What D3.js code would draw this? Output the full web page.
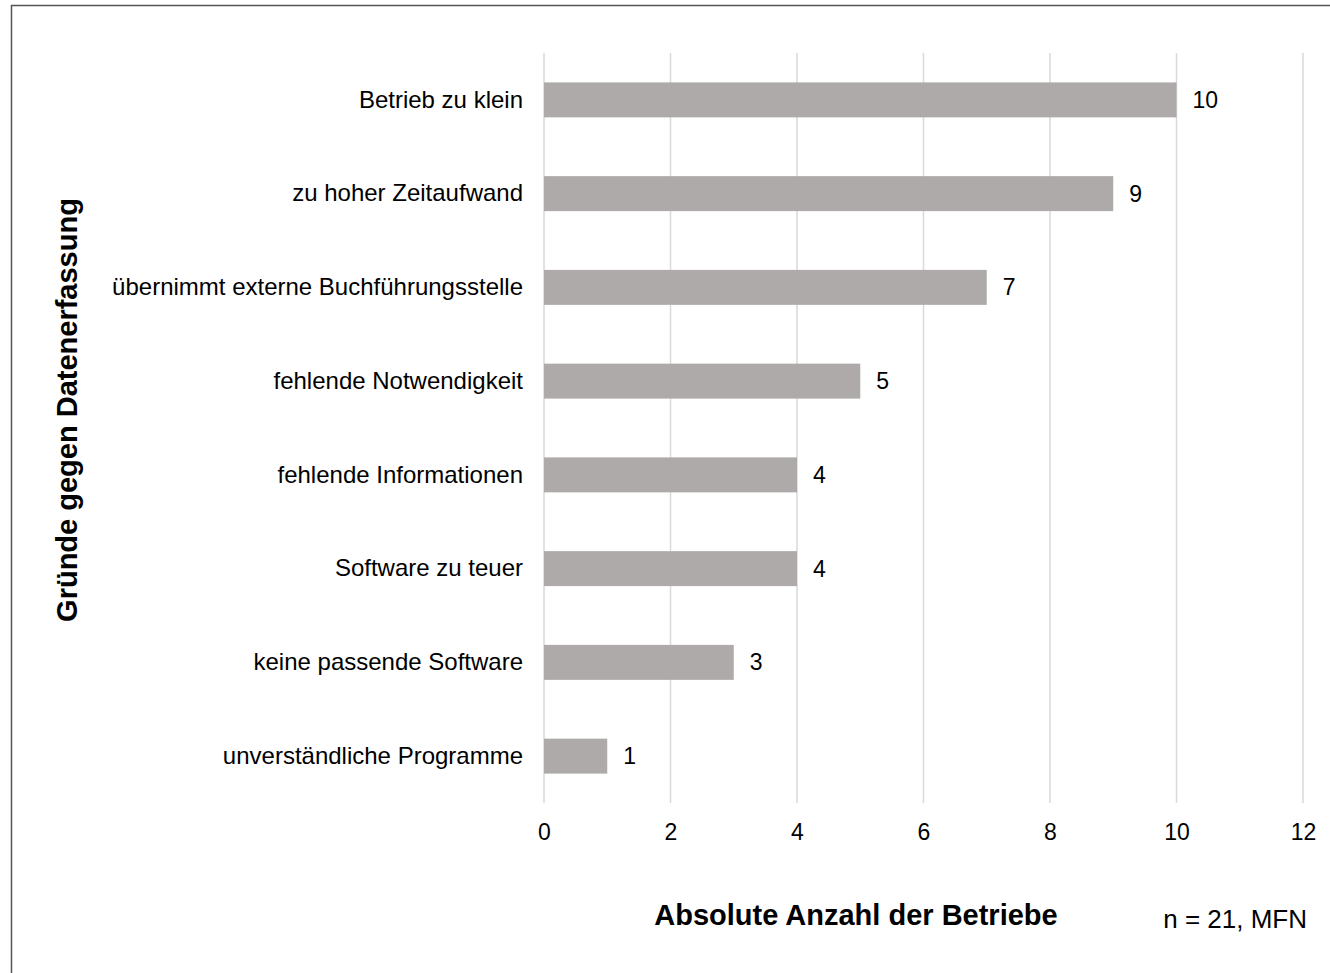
<!DOCTYPE html>
<html><head><meta charset="utf-8">
<script src="https://cdn.jsdelivr.net/npm/d3@7"></script>
<style>body{margin:0;background:#fff}svg{display:block}text{font-family:"Liberation Sans",Arial,sans-serif}</style>
</head><body><svg id="c" width="1330" height="973"></svg>
<script>
const categories = ["Betrieb zu klein","zu hoher Zeitaufwand","übernimmt externe Buchführungsstelle","fehlende Notwendigkeit","fehlende Informationen","Software zu teuer","keine passende Software","unverständliche Programme"];
const values = [10,9,7,5,4,4,3,1];
const xTicks = [0,2,4,6,8,10,12];
const xTitle = "Absolute Anzahl der Betriebe";
const yTitle = "Gründe gegen Datenerfassung";
const note = "n = 21, MFN";

const svg = d3.select("#c");
svg.append("rect").attr("x",11.5).attr("y",5.5).attr("width",1330).attr("height",980)
  .attr("fill","none").attr("stroke","#555").attr("stroke-width",1.5);

const x = d3.scaleLinear().domain([0,12]).range([544,1303]);
const y = d3.scaleBand().domain(categories).range([53,803]).paddingInner(0.627).paddingOuter(0.3135);

const g = svg.append("g");
g.selectAll("line.grid").data(xTicks).join("line")
  .attr("x1",d=>x(d)).attr("x2",d=>x(d)).attr("y1",53).attr("y2",803)
  .attr("stroke","#d9d9d9").attr("stroke-width",1.5);

const xAxis = d3.axisBottom(x).tickValues(xTicks).tickSize(0).tickPadding(0);
const ax = svg.append("g").attr("transform","translate(0,803)").call(xAxis);
ax.select(".domain").remove();
ax.selectAll("text").attr("font-size",23).attr("fill","#000").attr("dy","0").attr("y",37)
  .attr("font-family","'Liberation Sans',Arial,sans-serif");

g.selectAll("rect.bar").data(values).join("rect")
  .attr("x",x(0)).attr("y",(d,i)=>y(categories[i]))
  .attr("width",d=>x(d)-x(0)).attr("height",y.bandwidth()).attr("fill","#aeaaaa");

g.selectAll("text.val").data(values).join("text")
  .attr("x",d=>x(d)+16).attr("y",(d,i)=>y(categories[i])+y.bandwidth()/2)
  .attr("dy","0.35em").attr("font-size",23).attr("fill","#000").text(d=>d);

const yAxis = d3.axisLeft(y).tickSize(0).tickPadding(21);
const ay = svg.append("g").attr("transform","translate(544,0)").call(yAxis);
ay.select(".domain").remove();
ay.selectAll("text").attr("font-size",24).attr("fill","#000")
  .attr("font-family","'Liberation Sans',Arial,sans-serif");

svg.append("text").attr("x",856).attr("y",925).attr("text-anchor","middle")
  .attr("font-size",29).attr("font-weight","bold").attr("fill","#000").text(xTitle);
svg.append("text").attr("x",1307).attr("y",928).attr("text-anchor","end")
  .attr("font-size",26).attr("fill","#000").text(note);
svg.append("text").attr("transform","translate(77,410) rotate(-90)").attr("text-anchor","middle")
  .attr("font-size",29).attr("font-weight","bold").attr("fill","#000").text(yTitle);
</script></body></html>
